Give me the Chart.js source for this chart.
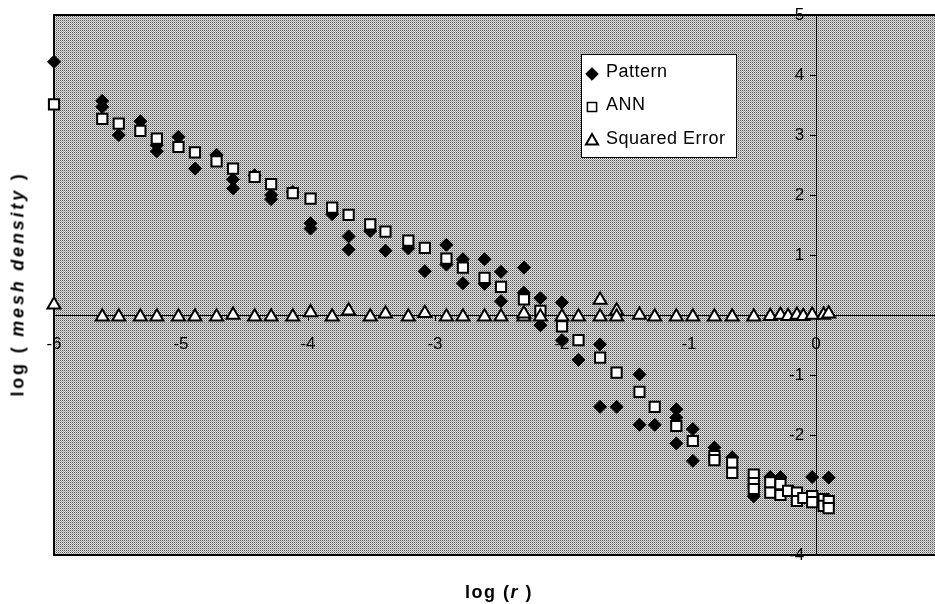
<!DOCTYPE html>
<html>
<head>
<meta charset="utf-8">
<script src="https://cdn.jsdelivr.net/npm/chart.js@4.4.0/dist/chart.umd.min.js"></script>
<style>
  body { margin: 0; background: #fff; }
  #wrap { position: relative; width: 935px; height: 604px; overflow: hidden; }
  .ttl { position: absolute; font: bold 18px "Liberation Sans", Arial, sans-serif; color: #000; white-space: nowrap; }
  #ytitle { left: 18px; top: 284px; transform: translate(-50%, -50%) rotate(-90deg); letter-spacing: 2.8px; }
  #xtitle { left: 499px; top: 592px; transform: translate(-50%, -50%); letter-spacing: 1.5px; }
</style>
</head>
<body>
<div id="wrap">
  <canvas id="chart-1" width="935" height="604"></canvas>
  <div class="ttl" id="ytitle">log ( <i>mesh density</i> )</div>
  <div class="ttl" id="xtitle">log (<i>r</i> )</div>
</div>
<script>
// values (log r, log mesh density)
const patternX = [-6.00, -5.62, -5.62, -5.49, -5.32, -5.19, -5.19, -5.02, -4.89, -4.72, -4.59, -4.59, -4.42,
  -4.29, -4.29, -4.12, -3.98, -3.98, -3.81, -3.68, -3.68, -3.51, -3.39, -3.21, -3.08, -2.91, -2.91, -2.78,
  -2.78, -2.61, -2.61, -2.48, -2.48, -2.30, -2.30, -2.17, -2.17, -2.00, -2.00, -1.87, -1.70, -1.70, -1.57,
  -1.39, -1.39, -1.27, -1.10, -1.10, -1.10, -0.97, -0.97, -0.80, -0.66, -0.49, -0.36, -0.28, -0.03, 0.10];
const patternY = [4.22, 3.57, 3.47, 3.00, 3.23, 2.83, 2.73, 2.97, 2.44, 2.67, 2.26, 2.11, 2.33,
  2.00, 1.93, 2.05, 1.53, 1.44, 1.68, 1.31, 1.09, 1.40, 1.07, 1.11, 0.73, 1.17, 0.84, 0.93,
  0.53, 0.93, 0.52, 0.72, 0.23, 0.79, 0.37, 0.28, -0.17, 0.21, -0.42, -0.75, -0.49, -1.53, -1.53,
  -0.99, -1.83, -1.83, -1.57, -1.71, -2.14, -1.90, -2.43, -2.21, -2.37, -3.02, -2.70, -2.70, -2.70, -2.71];

const annX = [-6.00, -5.62, -5.49, -5.32, -5.19, -5.02, -4.89, -4.72, -4.59, -4.42, -4.29, -4.12, -3.98,
  -3.81, -3.68, -3.51, -3.39, -3.21, -3.08, -2.91, -2.78, -2.61, -2.48, -2.30, -2.17, -2.00, -1.87, -1.70,
  -1.57, -1.39, -1.27, -1.10, -0.97, -0.80, -0.80, -0.66, -0.66, -0.49, -0.49, -0.49, -0.36, -0.36, -0.28,
  -0.28, -0.22, -0.15, -0.15, -0.10, -0.03, -0.03, 0.06, 0.06, 0.10, 0.10];
const annY = [3.51, 3.27, 3.19, 3.07, 2.94, 2.80, 2.71, 2.56, 2.44, 2.30, 2.18, 2.03, 1.94,
  1.79, 1.67, 1.51, 1.39, 1.24, 1.12, 0.94, 0.79, 0.62, 0.47, 0.26, 0.07, -0.19, -0.42, -0.71,
  -0.96, -1.28, -1.53, -1.85, -2.10, -2.35, -2.42, -2.46, -2.63, -2.66, -2.80, -2.90, -2.79, -2.96, -2.82,
  -3.00, -2.93, -2.96, -3.10, -3.05, -3.02, -3.12, -3.07, -3.18, -3.10, -3.22];

const errX = [-6.00, -5.62, -5.49, -5.32, -5.19, -5.02, -4.89, -4.72, -4.59, -4.42, -4.29, -4.12, -3.98,
  -3.81, -3.68, -3.51, -3.39, -3.21, -3.08, -2.91, -2.78, -2.61, -2.48, -2.30, -2.30, -2.17, -2.00, -1.87,
  -1.70, -1.70, -1.57, -1.57, -1.39, -1.27, -1.10, -0.97, -0.80, -0.66, -0.49, -0.36, -0.28, -0.22, -0.15,
  -0.10, -0.03, 0.06, 0.10];
const errY = [0.17, -0.03, -0.03, -0.03, -0.03, -0.03, -0.03, -0.03, 0.00, -0.03, -0.03, -0.03, 0.04,
  -0.03, 0.07, -0.03, 0.02, -0.03, 0.03, -0.03, -0.03, -0.03, -0.03, -0.03, 0.02, -0.03, -0.03, -0.03,
  0.25, -0.03, 0.07, -0.03, 0.00, -0.03, -0.03, -0.03, -0.03, -0.03, -0.03, -0.02, 0.00, -0.02, 0.00,
  -0.02, 0.00, 0.00, 0.02];

const xTicks = [-6, -5, -4, -3, -2, -1, 0];
const yTicks = [-4, -3, -2, -1, 0, 1, 2, 3, 4, 5];
const seriesNames = ['Pattern', 'ANN', 'Squared Error'];

const FONT = '"Liberation Sans", Arial, sans-serif';
const pts = (xs, ys) => xs.map((x, i) => ({ x: x, y: ys[i] }));

function makeStipple() {
  const c = document.createElement('canvas');
  c.width = 2; c.height = 2;
  const g = c.getContext('2d');
  g.fillStyle = '#e0e0e0'; g.fillRect(0, 0, 2, 2);
  g.fillStyle = '#575757'; g.fillRect(0, 0, 1, 1);
  g.fillStyle = '#a0a0a0'; g.fillRect(1, 1, 1, 1);
  return c;
}

// stippled plot area + frame (the plot runs off the right edge)
const plotBackground = {
  id: 'plotBackground',
  beforeDraw(chart) {
    const { ctx, chartArea: a } = chart;
    ctx.save();
    ctx.fillStyle = ctx.createPattern(makeStipple(), 'repeat');
    ctx.fillRect(a.left, a.top, chart.width - a.left, a.bottom - a.top);
    ctx.restore();
  },
  beforeDatasetsDraw(chart) {
    const { ctx, chartArea: a } = chart;
    ctx.save();
    ctx.strokeStyle = '#000';
    ctx.lineWidth = 2;
    ctx.beginPath();
    ctx.moveTo(chart.width, a.top);
    ctx.lineTo(a.left, a.top);
    ctx.lineTo(a.left, a.bottom);
    ctx.lineTo(chart.width, a.bottom);
    ctx.stroke();
    ctx.restore();
  }
};

// boxed legend inside the plot
const boxLegend = {
  id: 'boxLegend',
  afterDraw(chart) {
    const { ctx } = chart;
    const bx = 581, by = 54, bw = 155, bh = 103;
    ctx.save();
    ctx.fillStyle = '#fff';
    ctx.fillRect(bx, by, bw, bh);
    ctx.strokeStyle = '#000';
    ctx.lineWidth = 1;
    ctx.strokeRect(bx + 0.5, by + 0.5, bw, bh);
    const rows = [72, 105, 139];
    const marks = [
      { pointStyle: 'rectRot', radius: 6.3, borderWidth: 1, fill: '#000' },
      { pointStyle: 'rect', radius: 6.5, borderWidth: 1.5, fill: '#fff' },
      { pointStyle: 'triangle', radius: 7, borderWidth: 2, fill: '#fff' }
    ];
    chart.data.datasets.forEach((ds, i) => {
      ctx.fillStyle = marks[i].fill;
      ctx.strokeStyle = '#000';
      ctx.lineWidth = marks[i].borderWidth;
      Chart.helpers.drawPoint(ctx, { pointStyle: marks[i].pointStyle, radius: marks[i].radius, borderWidth: marks[i].borderWidth, rotation: 0 }, 592, rows[i] + 2);
      ctx.fillStyle = '#000';
      ctx.font = '18px ' + FONT;
      ctx.letterSpacing = '0.5px';
      ctx.textBaseline = 'middle';
      ctx.textAlign = 'left';
      ctx.fillText(ds.label, 606, rows[i]);
    });
    ctx.restore();
  }
};

new Chart(document.getElementById('chart-1'), {
  type: 'scatter',
  data: {
    datasets: [{
      label: seriesNames[0],
      data: pts(patternX, patternY),
      pointStyle: 'rectRot',
      pointRadius: 6.5,
      backgroundColor: '#000',
      borderColor: '#000',
      borderWidth: 1,
      clip: false,
      order: 3
    }, {
      label: seriesNames[1],
      data: pts(annX, annY),
      pointStyle: 'rect',
      pointRadius: 7.2,
      backgroundColor: '#fff',
      borderColor: '#000',
      borderWidth: 2,
      clip: false,
      order: 2
    }, {
      label: seriesNames[2],
      data: pts(errX, errY),
      pointStyle: 'triangle',
      pointRadius: 7.5,
      backgroundColor: '#fff',
      borderColor: '#000',
      borderWidth: 2,
      clip: false,
      order: 1
    }]
  },
  options: {
    responsive: false,
    animation: false,
    events: [],
    layout: { autoPadding: false, padding: { left: 54, top: 15, right: 0, bottom: 49 } },
    plugins: {
      legend: { display: false },
      tooltip: { enabled: false }
    },
    scales: {
      x: {
        type: 'linear',
        min: -6,
        max: 0.937,
        position: { y: 0 },
        afterBuildTicks: (s) => { s.ticks = xTicks.map(v => ({ value: v })); },
        grid: { drawOnChartArea: false, drawTicks: true, tickLength: 5, color: '#000' },
        border: { display: true, color: '#000', width: 1 },
        ticks: { color: '#000', font: { size: 17, family: FONT }, padding: 14, maxRotation: 0, autoSkip: false }
      },
      y: {
        type: 'linear',
        min: -4,
        max: 5,
        position: { x: 0 },
        afterBuildTicks: (s) => { s.ticks = yTicks.map(v => ({ value: v })); },
        grid: { drawOnChartArea: false, drawTicks: true, tickLength: 6, color: '#000' },
        border: { display: true, color: '#000', width: 1 },
        ticks: {
          color: '#000', font: { size: 17, family: FONT }, autoSkip: false,
          // labels sit left of the axis, clear of the tick mark
          callback: (v) => v === 0 ? '' : v + '\u2002\u2009'
        }
      }
    }
  },
  plugins: [plotBackground, boxLegend]
});
</script>
</body>
</html>
